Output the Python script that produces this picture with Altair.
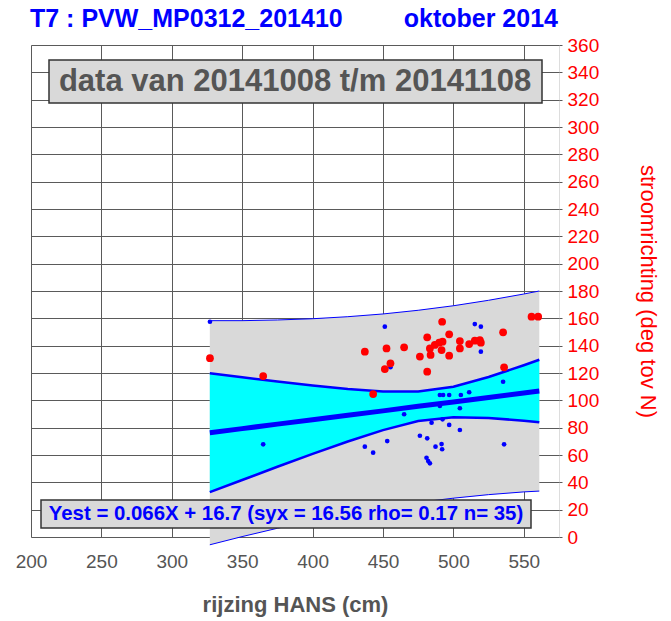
import altair as alt
import pandas as pd

# ---- data ----
# regression / confidence / prediction curves (x in cm, y in degrees)
band_x = [327, 350, 375, 400, 425, 450, 475, 500, 525, 550, 561]
reg_y = [76.3, 79.3, 82.6, 85.8, 89.1, 92.3, 95.6, 98.8, 102.1, 105.4, 106.8]
conf_hi = [119.8, 116.9, 113.8, 110.8, 108.3, 106.4, 106.4, 110.0, 117.1, 125.7, 129.7]
conf_lo = [32.8, 41.7, 51.4, 60.8, 69.9, 78.2, 84.8, 87.6, 87.1, 85.1, 83.9]
pred_hi = [158.3, 158.3, 158.8, 159.7, 161.2, 163.2, 165.9, 169.2, 173.2, 177.8, 180.0]
pred_lo = [-5.7, 0.3, 6.4, 11.9, 17.0, 21.4, 25.3, 28.4, 31.0, 33.0, 33.6]

# blue points
blue_x = [327.1, 364.9, 437.1, 443.0, 451.3, 453.0, 455.3, 465.0, 515.2, 519.5, 519.5,
          490.4, 492.7, 497.0, 505.3, 511.2, 490.4, 504.6, 535.3, 484.5, 492.3, 497.0,
          504.6, 476.2, 481.4, 487.3, 491.6, 492.0, 480.9, 482.1, 483.3, 536.0]
blue_y = [157.5, 67.8, 66.1, 61.7, 153.9, 70.2, 124.2, 89.8, 155.8, 153.9, 135.6,
          103.9, 103.9, 103.9, 103.9, 105.9, 95.9, 94.2, 113.6, 83.6, 86.1, 82.0,
          78.3, 74.1, 72.2, 66.1, 68.0, 64.2, 58.0, 55.6, 53.9, 67.8]

# red points
red_x = [327.1, 364.9, 437.1, 443.0, 452.5, 451.3, 455.3, 465.0, 481.4, 476.2, 481.4,
         492.0, 483.3, 483.8, 486.8, 489.9, 491.6, 492.3, 497.0, 497.0, 504.6, 504.6,
         511.2, 515.2, 518.8, 519.5, 535.3, 536.0, 555.5, 560.2]
red_y = [130.8, 117.8, 135.6, 104.6, 138.0, 122.9, 127.1, 138.8, 146.1, 132.0, 121.0,
         157.5, 138.0, 133.2, 140.5, 142.2, 136.8, 142.9, 148.3, 132.7, 143.4, 138.0,
         141.2, 143.6, 144.1, 142.2, 149.8, 124.2, 161.2, 161.2]

x_ticks = [200, 250, 300, 350, 400, 450, 500, 550]
y_ticks = list(range(0, 361, 20))

title_left = "T7 : PVW_MP0312_201410"
title_right = "oktober 2014"
period_text = "data van 20141008 t/m 20141108"
fit_text = "Yest = 0.066X + 16.7 (syx = 16.56 rho= 0.17 n= 35)"
x_title = "rijzing HANS (cm)"
y_title = "stroomrichting (deg tov N)"

FONT = "Liberation Sans"
W, H = 528, 492

band = pd.DataFrame({"x": band_x, "reg": reg_y, "chi": conf_hi, "clo": conf_lo,
                     "phi": pred_hi, "plo": pred_lo})
blue = pd.DataFrame({"x": blue_x, "y": blue_y})
red = pd.DataFrame({"x": red_x, "y": red_y})
one = pd.DataFrame({"a": [0]})

xscale = alt.Scale(domain=[200, 575], nice=False, zero=False)
yscale = alt.Scale(domain=[0, 360], nice=False, zero=False)

xaxis = alt.Axis(values=x_ticks, grid=True, gridColor="#5a5a5a", gridWidth=1,
                 domain=False, ticks=False, tickSize=0, labelPadding=15, labelFlush=False,
                 labelColor="#555555", labelFontSize=19, labelFont=FONT,
                 title=x_title, titleFont=FONT, titleFontSize=22, titleFontWeight="bold",
                 titleColor="#555555", titleX=W / 2, titleY=67, titleBaseline="middle",
                 titleAlign="center")
yaxis = alt.Axis(orient="right", values=y_ticks, grid=True, gridColor="#5a5a5a", gridWidth=1,
                 domain=False, ticks=True, tickSize=3, tickColor="#5a5a5a",
                 labelPadding=5, labelFlush=False, labelColor="#ff0000", labelFontSize=19,
                 labelFont=FONT,
                 title=y_title, titleFont=FONT, titleFontSize=22, titleFontWeight="normal",
                 titleColor="#ff0000", titleAngle=90, titleX=88, titleY=H / 2,
                 titleBaseline="middle", titleAlign="center")


def X(f):
    return alt.X(f"{f}:Q", scale=xscale, axis=xaxis)


def Y(f):
    return alt.Y(f"{f}:Q", scale=yscale, axis=yaxis)


base = alt.Chart(band)
gray = base.mark_area(color="#d9d9d9", opacity=1).encode(x=X("x"), y=Y("plo"), y2="phi")
cyan = base.mark_area(color="#00ffff", opacity=1).encode(x=X("x"), y=Y("clo"), y2="chi")
l_phi = base.mark_line(color="#0000ff", strokeWidth=1).encode(x=X("x"), y=Y("phi"))
l_plo = base.mark_line(color="#0000ff", strokeWidth=1).encode(x=X("x"), y=Y("plo"))
l_chi = base.mark_line(color="#0000ff", strokeWidth=2.5).encode(x=X("x"), y=Y("chi"))
l_clo = base.mark_line(color="#0000ff", strokeWidth=2.5).encode(x=X("x"), y=Y("clo"))
l_reg = base.mark_line(color="#0000ff", strokeWidth=5).encode(x=X("x"), y=Y("reg"))

pts_blue = alt.Chart(blue).mark_circle(color="#0000ff", size=22, opacity=1).encode(
    x=X("x"), y=Y("y"))
pts_red = alt.Chart(red).mark_circle(color="#ff0000", size=60, opacity=1).encode(
    x=X("x"), y=Y("y"))

t_left = alt.Chart(one).mark_text(text=title_left, font=FONT, fontSize=25, fontWeight="bold",
                                  color="#0000ff", align="left", baseline="middle").encode(
    x=alt.value(-1), y=alt.value(-26))
t_right = alt.Chart(one).mark_text(text=title_right, font=FONT, fontSize=25, fontWeight="bold",
                                   color="#0000ff", align="right", baseline="middle").encode(
    x=alt.value(527), y=alt.value(-26))

box1 = alt.Chart(one).mark_rect(fill="#d9d9d9", stroke="#333333", strokeWidth=1.5).encode(
    x=alt.value(18), x2=alt.value(511), y=alt.value(15), y2=alt.value(58))
box1_t = alt.Chart(one).mark_text(text=period_text, font=FONT, fontSize=31, fontWeight="bold",
                                  color="#555555", align="center", baseline="middle").encode(
    x=alt.value(264), y=alt.value(37))
box2 = alt.Chart(one).mark_rect(fill="#d9d9d9", stroke="#333333", strokeWidth=1.5).encode(
    x=alt.value(10), x2=alt.value(500), y=alt.value(455), y2=alt.value(483))
box2_t = alt.Chart(one).mark_text(text=fit_text, font=FONT, fontSize=20.4, fontWeight="bold",
                                  color="#0000ff", align="center", baseline="middle").encode(
    x=alt.value(255), y=alt.value(469))

chart = alt.layer(
    gray, cyan, l_phi, l_plo, l_chi, l_clo, l_reg, pts_blue, pts_red,
    t_left, t_right, box1, box1_t, box2, box2_t
).properties(
    width=W, height=H,
    autosize=alt.AutoSizeParams(type="none"),
    padding={"left": 23, "top": 37, "right": 104, "bottom": 80},
).configure_view(
    stroke="#5a5a5a", strokeWidth=1
).configure(
    font=FONT
)

chart.save("out.html", embed_options={"renderer": "svg", "actions": False})
